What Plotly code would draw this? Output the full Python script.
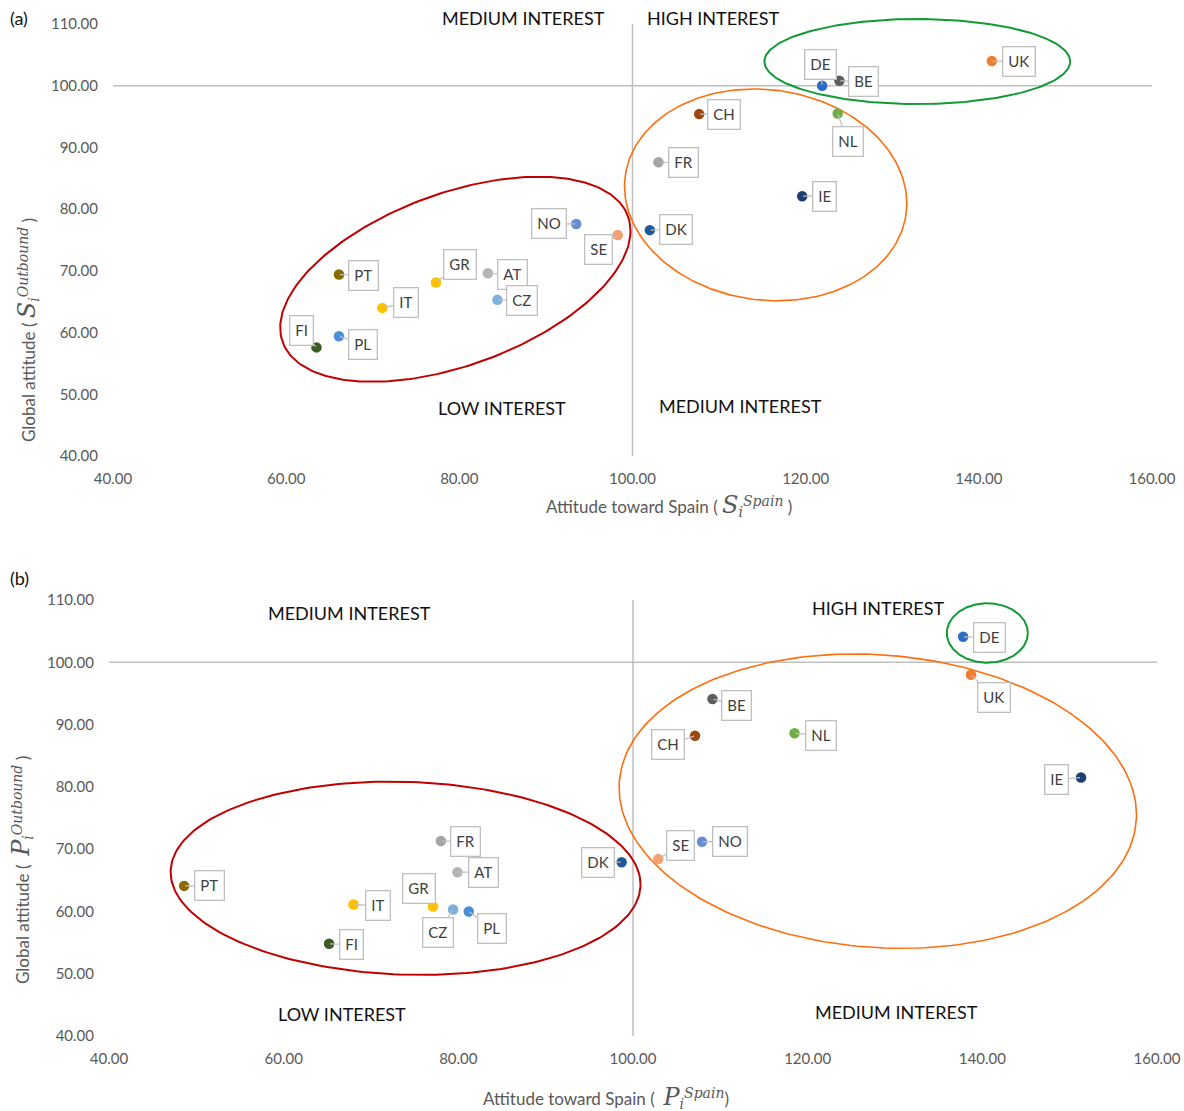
import numpy as np
import plotly.graph_objects as go

# ---------------- data ----------------
countries = ["UK", "DE", "BE", "CH", "NL", "FR", "IE", "DK", "NO", "SE",
             "GR", "AT", "CZ", "PT", "IT", "PL", "FI"]

# panel (a): attitude toward Spain (S_i^Spain) vs global attitude (S_i^Outbound)
spain_a = [141.5, 121.9, 123.9, 107.7, 123.7, 103.0, 119.6, 102.0, 93.5, 98.3,
           77.3, 83.3, 84.4, 66.1, 71.1, 66.1, 63.5]
outbound_a = [104.0, 100.0, 100.8, 95.4, 95.5, 87.6, 82.1, 76.6, 77.6, 75.8,
              68.1, 69.6, 65.3, 69.4, 64.0, 59.4, 57.6]

# panel (b): attitude toward Spain (P_i^Spain) vs global attitude (P_i^Outbound)
spain_b = [138.7, 137.8, 109.1, 107.1, 118.5, 78.0, 151.3, 98.7, 107.9, 102.9,
           77.1, 79.9, 79.4, 48.6, 68.0, 81.2, 65.2]
outbound_b = [98.0, 104.1, 94.1, 88.2, 88.6, 71.3, 81.5, 67.9, 71.2, 68.4,
              60.8, 66.3, 60.3, 64.1, 61.1, 60.0, 54.8]

tick_vals_x = [40, 60, 80, 100, 120, 140, 160]
tick_vals_y = [40, 50, 60, 70, 80, 90, 100, 110]

# group ellipses: (cx, cy, half-width, half-height, y-offset of rightmost point)
ellipses_a = {
    "low": (79.54, 68.64, 20.23, 16.61, 7.86),
    "medium": (115.38, 82.31, 16.3, 17.16, -1.39),
    "high": (132.89, 103.92, 17.66, 6.89, 0.0),
}
ellipses_b = {
    "low": (73.96, 65.33, 26.9, 15.52, -1.0),
    "medium": (128.03, 77.7, 29.62, 23.63, -2.17),
    "high": (140.57, 104.7, 4.64, 4.77, 0.0),
}

# ---------------- styles ----------------
colors = {
    "UK": "#ED7D31", "DE": "#2E6BC6", "BE": "#5E5E5E", "CH": "#9E480E",
    "NL": "#70AD47", "FR": "#A5A5A5", "IE": "#1F3D73", "DK": "#1F5A92",
    "NO": "#698ED0", "SE": "#F4A070", "GR": "#FFC000", "AT": "#B4B4B4",
    "CZ": "#7CAFDD", "PT": "#8C6A00", "IT": "#FFC000", "PL": "#4A90D9",
    "FI": "#3B5E24",
}
ell_colors = {"low": "#C00000", "medium": "#FF6D0D", "high": "#119A35"}
ell_widths = {"low": 2.0, "medium": 1.6, "high": 2.0}

# label offsets (pixels) from point to label centre
offs_a = {
    "UK": (27, 0), "DE": (-2, -21), "BE": (24, 1), "CH": (25, 0), "NL": (10, 28),
    "FR": (25, 0), "IE": (22, 0), "DK": (26, -1), "NO": (-27, 0), "SE": (-19, 14),
    "GR": (24, -18), "AT": (25, 1), "CZ": (25, 1), "PT": (25, 1), "IT": (24, -5),
    "PL": (24, 8), "FI": (-15, -17),
}
offs_b = {
    "UK": (23, 23), "DE": (26, 1), "BE": (24, 6), "CH": (-27, 9), "NL": (26, 2),
    "FR": (25, 0), "IE": (-25, 2), "DK": (-24, 0), "NO": (28, 0), "SE": (22, -14),
    "GR": (-14, -18), "AT": (26, 0), "CZ": (-15, 23), "PL": (23, 17), "IT": (24, 1),
    "PT": (25, 0), "FI": (22, 1),
}

FONT = "Lato, Open Sans, sans-serif"
MATH = "DejaVu Serif"
GRAY_TXT = "#595959"
LINE_GRAY = "#BFBFBF"

W, H = 1184, 1111
# plot-area pixel boxes (left, right, top-of-110, bottom-of-40)
PA = (113, 1152, 24, 456)
PB = (109, 1157, 600, 1036)
Y_EXTRA = 2.0  # extra data units above 110 so ellipses are not clipped

fig = go.Figure()


def ellipse_xy(p):
    cx, cy, rx, ry, dy = p
    t = np.linspace(0, 2 * np.pi, 241)
    k = np.sqrt(ry ** 2 - dy ** 2)
    return cx + rx * np.cos(t), cy + dy * np.cos(t) + k * np.sin(t)


for ells, xa, ya in [(ellipses_a, "x", "y"), (ellipses_b, "x2", "y2")]:
    for name, p in ells.items():
        ex, ey = ellipse_xy(p)
        fig.add_trace(go.Scatter(x=ex, y=ey, mode="lines", xaxis=xa, yaxis=ya,
                                 line=dict(color=ell_colors[name], width=ell_widths[name]),
                                 hoverinfo="skip", showlegend=False))

for xs, ys, xa, ya in [(spain_a, outbound_a, "x", "y"), (spain_b, outbound_b, "x2", "y2")]:
    fig.add_trace(go.Scatter(x=xs, y=ys, mode="markers", xaxis=xa, yaxis=ya,
                             text=countries,
                             marker=dict(size=10.5, color=[colors[c] for c in countries]),
                             showlegend=False))

annotations = []
for xs, ys, offs, xr, yr in [(spain_a, outbound_a, offs_a, "x", "y"),
                             (spain_b, outbound_b, offs_b, "x2", "y2")]:
    for c, xv, yv in zip(countries, xs, ys):
        ax, ay = offs[c]
        annotations.append(dict(
            x=xv, y=yv, xref=xr, yref=yr, text=c, showarrow=True,
            ax=ax, ay=ay, arrowhead=0, arrowwidth=1.2, arrowcolor=LINE_GRAY,
            standoff=1, bgcolor="white", bordercolor=LINE_GRAY, borderwidth=1.3,
            borderpad=5, font=dict(family=FONT, size=15, color="#404040")))

# quadrant labels
quad = [
    ("MEDIUM INTEREST", 87.4, 111.0, "x", "y"),
    ("HIGH INTEREST", 109.4, 111.0, "x", "y"),
    ("LOW INTEREST", 84.9, 47.8, "x", "y"),
    ("MEDIUM INTEREST", 112.5, 48.1, "x", "y"),
    ("MEDIUM INTEREST", 67.5, 107.9, "x2", "y2"),
    ("HIGH INTEREST", 128.1, 108.7, "x2", "y2"),
    ("LOW INTEREST", 66.7, 43.5, "x2", "y2"),
    ("MEDIUM INTEREST", 130.2, 43.9, "x2", "y2"),
]
for t, xv, yv, xr, yr in quad:
    annotations.append(dict(x=xv, y=yv, xref=xr, yref=yr, text=t, showarrow=False,
                            xanchor="center", yanchor="middle",
                            font=dict(family=FONT, size=18, color="#111111")))


def m(s, size):
    return f'<span style="font-family:{MATH};font-size:{size}px"><i>{s}</i></span>'


def math_title(prefix, letter, sup, suffix):
    return (prefix + m(letter, 24) + "<sub>" + m("i", 14) + "</sub><sup>"
            + m(sup, 14) + "</sup>" + suffix)


titles = [
    (math_title("Attitude toward Spain ( ", "S", "Spain", " )"), 669 / W, 1 - 505 / H, 0),
    (math_title("Global attitude ( ", "S", "Outbound", " )"), 27 / W, 1 - 330 / H, -90),
    (math_title("Attitude toward Spain (  ", "P", "Spain", ")"), 606 / W, 1 - 1097 / H, 0),
    (math_title("Global attitude (  ", "P", "Outbound", " )"), 22 / W, 1 - 870 / H, -90),
]
for t, xv, yv, ang in titles:
    annotations.append(dict(x=xv, y=yv, xref="paper", yref="paper", text=t, showarrow=False,
                            textangle=ang, xanchor="center", yanchor="middle",
                            font=dict(family=FONT, size=17, color=GRAY_TXT)))

for t, yv in [("(a)", 1 - 18 / H), ("(b)", 1 - 578 / H)]:
    annotations.append(dict(x=19 / W, y=yv, xref="paper", yref="paper", text=t,
                            xanchor="center", yanchor="middle",
                            showarrow=False, font=dict(family=FONT, size=18, color="#111111")))

shapes = []
for xr, yr in [("x", "y"), ("x2", "y2")]:
    shapes.append(dict(type="line", xref=xr, yref=yr, x0=100, x1=100, y0=40, y1=110,
                       line=dict(color=LINE_GRAY, width=1.5), layer="below"))
    shapes.append(dict(type="line", xref=xr, yref=yr, x0=40, x1=160, y0=100, y1=100,
                       line=dict(color=LINE_GRAY, width=1.5), layer="below"))

axis_common = dict(showgrid=False, zeroline=False, showline=False, ticks="",
                   tickformat=".2f", tickfont=dict(family=FONT, size=15, color=GRAY_TXT),
                   fixedrange=True, automargin=False)


def ydomain(box):
    l, r, t, b = box
    ppu = (b - t) / 70.0
    top_px = t - Y_EXTRA * ppu
    return [1 - b / H, 1 - top_px / H]


fig.update_layout(
    width=W, height=H, margin=dict(l=0, r=0, t=0, b=0, autoexpand=False),
    paper_bgcolor="white", plot_bgcolor="white",
    xaxis=dict(domain=[PA[0] / W, PA[1] / W], range=[40, 160], tickvals=tick_vals_x,
               anchor="y", ticklabelstandoff=12, **axis_common),
    yaxis=dict(domain=ydomain(PA), range=[40, 110 + Y_EXTRA], tickvals=tick_vals_y,
               anchor="x", ticklabelstandoff=14, **axis_common),
    xaxis2=dict(domain=[PB[0] / W, PB[1] / W], range=[40, 160], tickvals=tick_vals_x,
                anchor="y2", ticklabelstandoff=12, **axis_common),
    yaxis2=dict(domain=ydomain(PB), range=[40, 110 + Y_EXTRA], tickvals=tick_vals_y,
                anchor="x2", ticklabelstandoff=14, **axis_common),
    annotations=annotations, shapes=shapes, showlegend=False,
)

fig.write_html("out.html", config={"displayModeBar": False},
               post_script="document.body.style.margin='0px';")
